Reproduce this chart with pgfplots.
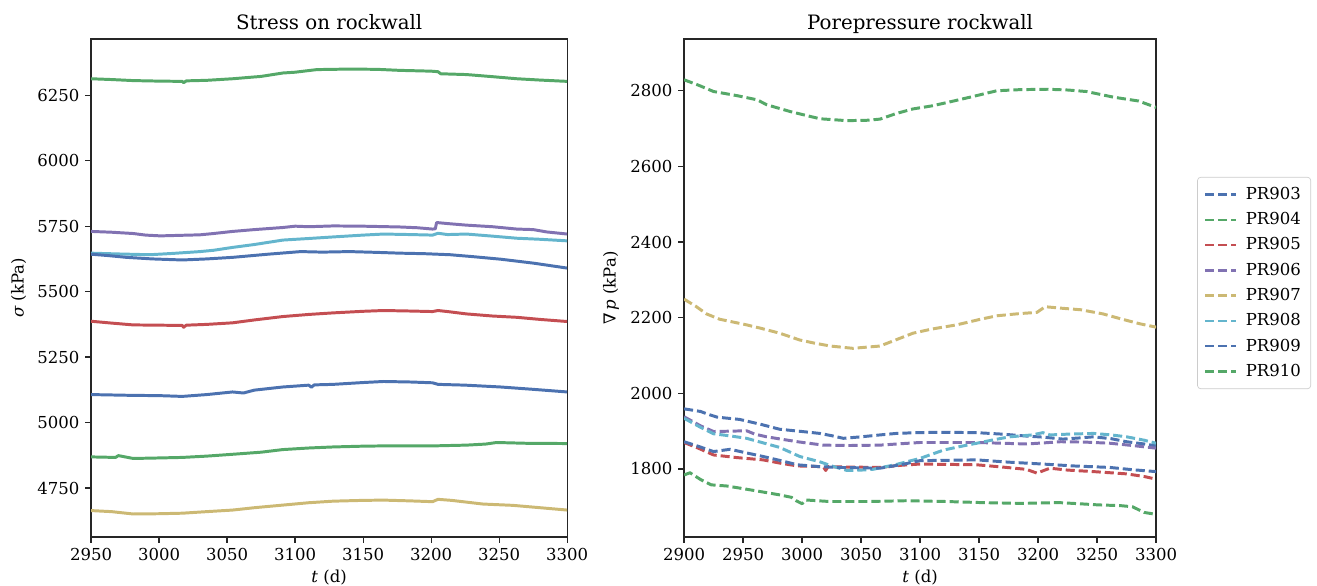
\documentclass[border=0pt]{standalone}
\usepackage{fontspec}
\setmainfont{DejaVu Serif}
\usepackage{pgfplots}
\pgfplotsset{compat=1.18}
\definecolor{sbblue}{HTML}{4C72B0}
\definecolor{sbgreen}{HTML}{55A868}
\definecolor{sbred}{HTML}{C44E52}
\definecolor{sbpurple}{HTML}{8172B2}
\definecolor{sbyellow}{HTML}{CCB974}
\definecolor{sbcyan}{HTML}{64B5CD}
\pgfplotsset{
  rockwall/.style={
    scale only axis, height=301.8pt,
    axis line style={black!85, line width=0.8pt},
    tick align=outside, tick pos=left, major tick length=3.5pt,
    tick style={black!85, line width=0.8pt},
    /pgf/number format/assume math mode=true,
    /pgf/number format/1000 sep={},
    scaled ticks=false,
    tick label style={font=\fontsize{10}{12}\selectfont},
    label style={font=\fontsize{10}{12}\selectfont},
    title style={font=\fontsize{12}{14}\selectfont, at={(0.5,1)}, anchor=base, yshift=0pt},
    xlabel={\textit{t} (d)},
    xlabel style={yshift=1.5pt},
  },
  sline/.style={line width=1.8pt, solid, line join=round},
  dline/.style={line width=1.8pt, dash pattern=on 5.5pt off 2.4pt, line join=round},
}

\begin{document}
\begin{tikzpicture}
\useasboundingbox (0,0) rectangle (798pt,354.5pt);

% left: stress
\begin{axis}[rockwall, at={(55.2pt,29.1pt)}, anchor=south west,
    width=288.5pt,
    title={Stress on rockwall},
    ylabel={\textit{σ} (kPa)},
    xmin=2950, xmax=3300, ymin=4563, ymax=6465,
    xtick={2950,3000,...,3300},
    ytick={4750,5000,...,6250},
  ]
  \addplot[sline, sbgreen] coordinates {(2950,6313) (2965,6310) (2981,6306) (3000,6304) (3017,6303) (3018,6298) (3020,6305) (3035,6307) (3054,6313) (3075,6322) (3091,6335) (3100,6338) (3116,6348) (3140,6350) (3160,6349) (3177,6345) (3200,6342) (3205,6340) (3207,6332) (3226,6329) (3245,6321) (3263,6313) (3280,6308) (3300,6303)};
  \addplot[sline, sbpurple] coordinates {(2950,5730) (2965,5727) (2981,5722) (2990,5716) (3001,5713) (3015,5715) (3030,5717) (3040,5722) (3054,5730) (3070,5737) (3091,5745) (3100,5750) (3110,5748) (3128,5751) (3150,5750) (3177,5747) (3190,5744) (3201,5739) (3203,5740) (3204,5764) (3212,5760) (3226,5754) (3245,5748) (3263,5739) (3275,5737) (3285,5728) (3300,5720)};
  \addplot[sline, sbcyan] coordinates {(2950,5647) (2970,5644) (2993,5641) (3010,5646) (3030,5653) (3040,5658) (3054,5669) (3070,5680) (3091,5697) (3110,5703) (3128,5709) (3150,5716) (3165,5720) (3185,5718) (3201,5716) (3205,5723) (3212,5718) (3226,5720) (3245,5712) (3263,5704) (3280,5700) (3300,5694)};
  \addplot[sline, sbblue] coordinates {(2950,5643) (2962,5638) (2976,5631) (2995,5625) (3017,5621) (3035,5625) (3054,5631) (3080,5643) (3104,5653) (3120,5651) (3140,5653) (3160,5650) (3177,5647) (3195,5645) (3214,5641) (3230,5634) (3251,5624) (3275,5609) (3300,5590)};
  \addplot[sline, sbred] coordinates {(2950,5387) (2965,5380) (2981,5373) (3000,5372) (3017,5371) (3018,5364) (3020,5372) (3035,5375) (3054,5381) (3070,5392) (3091,5405) (3110,5413) (3128,5419) (3150,5425) (3165,5428) (3185,5426) (3201,5424) (3205,5428) (3212,5424) (3226,5415) (3245,5407) (3263,5402) (3280,5394) (3300,5386)};
  \addplot[sline, sbblue] coordinates {(2950,5107) (2980,5104) (3000,5103) (3017,5100) (3035,5107) (3054,5117) (3062,5113) (3070,5124) (3091,5136) (3110,5143) (3112,5135) (3114,5144) (3128,5146) (3150,5153) (3165,5157) (3185,5155) (3201,5152) (3205,5146) (3225,5143) (3251,5136) (3275,5127) (3300,5117)};
  \addplot[sline, sbgreen] coordinates {(2950,4869) (2968,4867) (2970,4874) (2981,4863) (3000,4865) (3017,4867) (3035,4872) (3054,4879) (3075,4887) (3091,4897) (3110,4903) (3128,4907) (3150,4910) (3165,4911) (3185,4911) (3201,4911) (3226,4914) (3240,4918) (3248,4924) (3270,4921) (3300,4920)};
  \addplot[sline, sbyellow] coordinates {(2950,4664) (2965,4660) (2981,4651) (3000,4652) (3017,4654) (3035,4660) (3054,4666) (3070,4675) (3091,4685) (3110,4694) (3128,4700) (3150,4703) (3165,4704) (3185,4701) (3201,4698) (3205,4707) (3215,4703) (3238,4689) (3260,4684) (3280,4675) (3300,4666)};
\end{axis}

% right: pore pressure
\begin{axis}[rockwall, at={(414.5pt,29.1pt)}, anchor=south west,
    width=286pt,
    title={Porepressure rockwall},
    ylabel={∇\,\textit{p} (kPa)},
    xmin=2900, xmax=3300, ymin=1620, ymax=2937,
    xtick={2900,2950,...,3300},
    ytick={1800,2000,...,2800},
    legend cell align=left,
    legend style={at={(1.087,0.51)}, anchor=west, draw=black!20, rounded corners=2pt,
      font=\fontsize{10}{12}\selectfont, row sep=2.4pt, column sep=3pt,
      inner xsep=4pt, inner ysep=4pt},
    legend image code/.code={\draw[#1, line width=1.5pt] (0cm,0cm) -- (0.66cm,0cm);},
  ]
  \addplot[dline, sbblue] coordinates {(2900,1959) (2914,1952) (2920,1945) (2928,1937) (2947,1931) (2965,1918) (2981,1905) (3000,1899) (3015,1894) (3025,1888) (3035,1881) (3050,1885) (3066,1890) (3080,1894) (3097,1896) (3120,1897) (3148,1896) (3170,1892) (3190,1887) (3205,1884) (3221,1879) (3235,1882) (3247,1885) (3262,1880) (3275,1872) (3290,1866) (3300,1861)};
  \addlegendentry{PR903}
  \addplot[dline, sbgreen] coordinates {(2900,2829) (2912,2815) (2925,2798) (2945,2787) (2962,2776) (2970,2763) (2990,2745) (3015,2726) (3038,2721) (3055,2722) (3066,2725) (3080,2740) (3094,2752) (3110,2760) (3123,2769) (3145,2785) (3165,2800) (3185,2803) (3208,2804) (3225,2802) (3241,2798) (3264,2783) (3285,2773) (3300,2756)};
  \addlegendentry{PR904}
  \addplot[dline, sbred] coordinates {(2900,1870) (2912,1855) (2925,1837) (2945,1830) (2967,1824) (2982,1815) (2996,1808) (3018,1806) (3020,1796) (3022,1806) (3040,1805) (3066,1804) (3085,1810) (3100,1813) (3125,1812) (3148,1811) (3170,1805) (3190,1799) (3199,1789) (3210,1802) (3225,1797) (3247,1793) (3275,1787) (3290,1780) (3300,1773)};
  \addlegendentry{PR905}
  \addplot[dline, sbpurple] coordinates {(2900,1938) (2914,1914) (2925,1899) (2940,1900) (2953,1901) (2960,1892) (2970,1885) (2996,1872) (3018,1863) (3040,1862) (3066,1863) (3085,1867) (3100,1870) (3125,1870) (3148,1870) (3170,1868) (3190,1866) (3205,1869) (3219,1872) (3240,1871) (3261,1868) (3280,1862) (3300,1855)};
  \addlegendentry{PR906}
  \addplot[dline, sbyellow] coordinates {(2900,2249) (2910,2230) (2919,2210) (2930,2196) (2953,2181) (2965,2172) (2981,2159) (2998,2141) (3010,2133) (3024,2125) (3043,2119) (3066,2125) (3080,2142) (3094,2159) (3110,2170) (3131,2181) (3150,2195) (3165,2205) (3185,2211) (3199,2214) (3206,2229) (3220,2225) (3236,2221) (3255,2210) (3270,2197) (3286,2184) (3300,2175)};
  \addlegendentry{PR907}
  \addplot[dline, sbcyan] coordinates {(2900,1934) (2914,1910) (2925,1893) (2940,1887) (2953,1881) (2967,1869) (2981,1857) (2998,1833) (3015,1819) (3025,1808) (3038,1796) (3050,1797) (3060,1799) (3080,1812) (3100,1828) (3120,1850) (3135,1860) (3148,1868) (3162,1877) (3176,1885) (3195,1890) (3204,1896) (3210,1890) (3225,1892) (3247,1894) (3262,1890) (3275,1885) (3290,1876) (3300,1868)};
  \addlegendentry{PR908}
  \addplot[dline, sbblue] coordinates {(2900,1872) (2912,1860) (2925,1846) (2939,1852) (2952,1843) (2967,1833) (2982,1822) (2996,1811) (3015,1806) (3032,1804) (3050,1803) (3066,1802) (3085,1812) (3100,1822) (3125,1823) (3148,1824) (3175,1818) (3204,1813) (3230,1808) (3261,1804) (3280,1798) (3300,1793)};
  \addlegendentry{PR909}
  \addplot[dline, sbgreen] coordinates {(2900,1784) (2905,1790) (2914,1772) (2923,1758) (2936,1755) (2950,1748) (2965,1740) (2980,1732) (2991,1725) (2995,1716) (3000,1708) (3003,1718) (3023,1714) (3056,1714) (3088,1716) (3121,1714) (3153,1711) (3186,1709) (3218,1711) (3235,1708) (3251,1705) (3270,1703) (3280,1700) (3290,1685) (3300,1680)};
  \addlegendentry{PR910}
\end{axis}
\end{tikzpicture}
\end{document}
